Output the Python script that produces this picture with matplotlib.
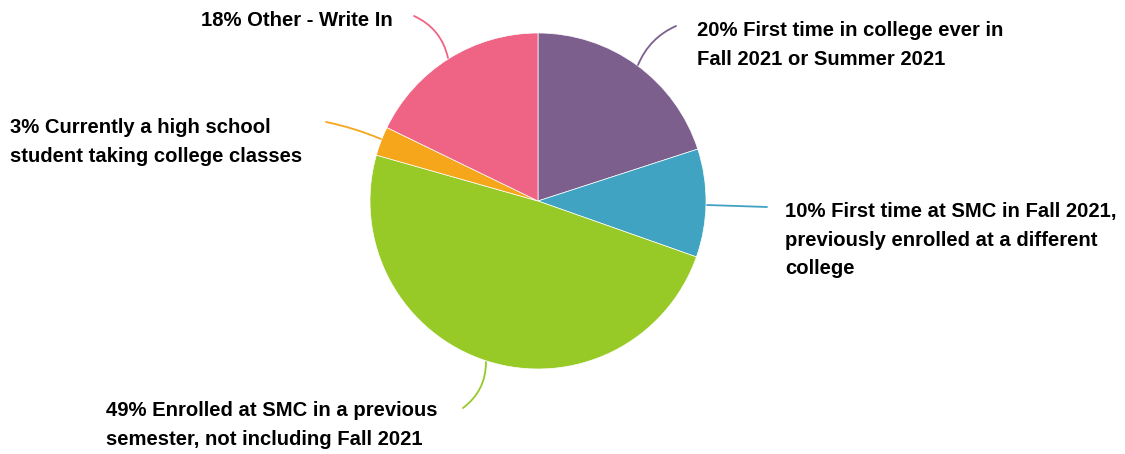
import matplotlib
matplotlib.use("Agg")
import matplotlib.pyplot as plt

# slice data, clockwise from 12 o'clock
categories = [
    "First time in college ever in\nFall 2021 or Summer 2021",
    "First time at SMC in Fall 2021,\npreviously enrolled at a different\ncollege",
    "Enrolled at SMC in a previous\nsemester, not including Fall 2021",
    "Currently a high school\nstudent taking college classes",
    "Other - Write In",
]
shares = [20.0, 10.4, 49.0, 2.8, 17.8]
colors = ["#7D5F8E", "#40A3C2", "#97C927", "#F5A61B", "#EF6485"]

W, H = 1125, 454

def px(x, y):
    # pixel position (top-left origin) -> data coords
    return (x, H - y)

fig = plt.figure(figsize=(W / 100, H / 100), dpi=100)
ax = fig.add_axes([0, 0, 1, 1])

ax.pie(shares, colors=colors, startangle=90, counterclock=False,
       center=px(538, 201), radius=168, frame=True,
       wedgeprops=dict(edgecolor="white", linewidth=0.5))
ax.set_xlim(0, W)
ax.set_ylim(0, H)
ax.set_aspect("equal")
ax.axis("off")

# label layout: (leader start on pie, leader end, text anchor, ha, curvature)
layout = [
    ((638, 65), (676, 26), (697, 45), "left", 0.2),
    ((707, 205), (767, 207), (785, 240), "left", 0.0),
    ((486, 362), (463, 408), (106, 425), "left", 0.25),
    ((381, 139), (326, 122), (10, 142), "left", -0.05),
    ((448, 58), (414, 16), (393, 21), "right", -0.25),
]

for share, cat, col, (p0, p1, pt, ha, rad) in zip(shares, categories, colors, layout):
    ax.annotate("", xy=px(*p0), xytext=px(*p1),
                arrowprops=dict(arrowstyle="-", color=col, lw=1.3,
                                connectionstyle=f"arc3,rad={rad}",
                                shrinkA=0, shrinkB=0))
    ax.text(*px(*pt), f"{round(share)}% {cat}", ha=ha, va="center",
            fontsize=14.6, fontweight="bold", family="Liberation Sans",
            linespacing=1.62, color="black")

fig.savefig("out.png", dpi=100, facecolor="white")
